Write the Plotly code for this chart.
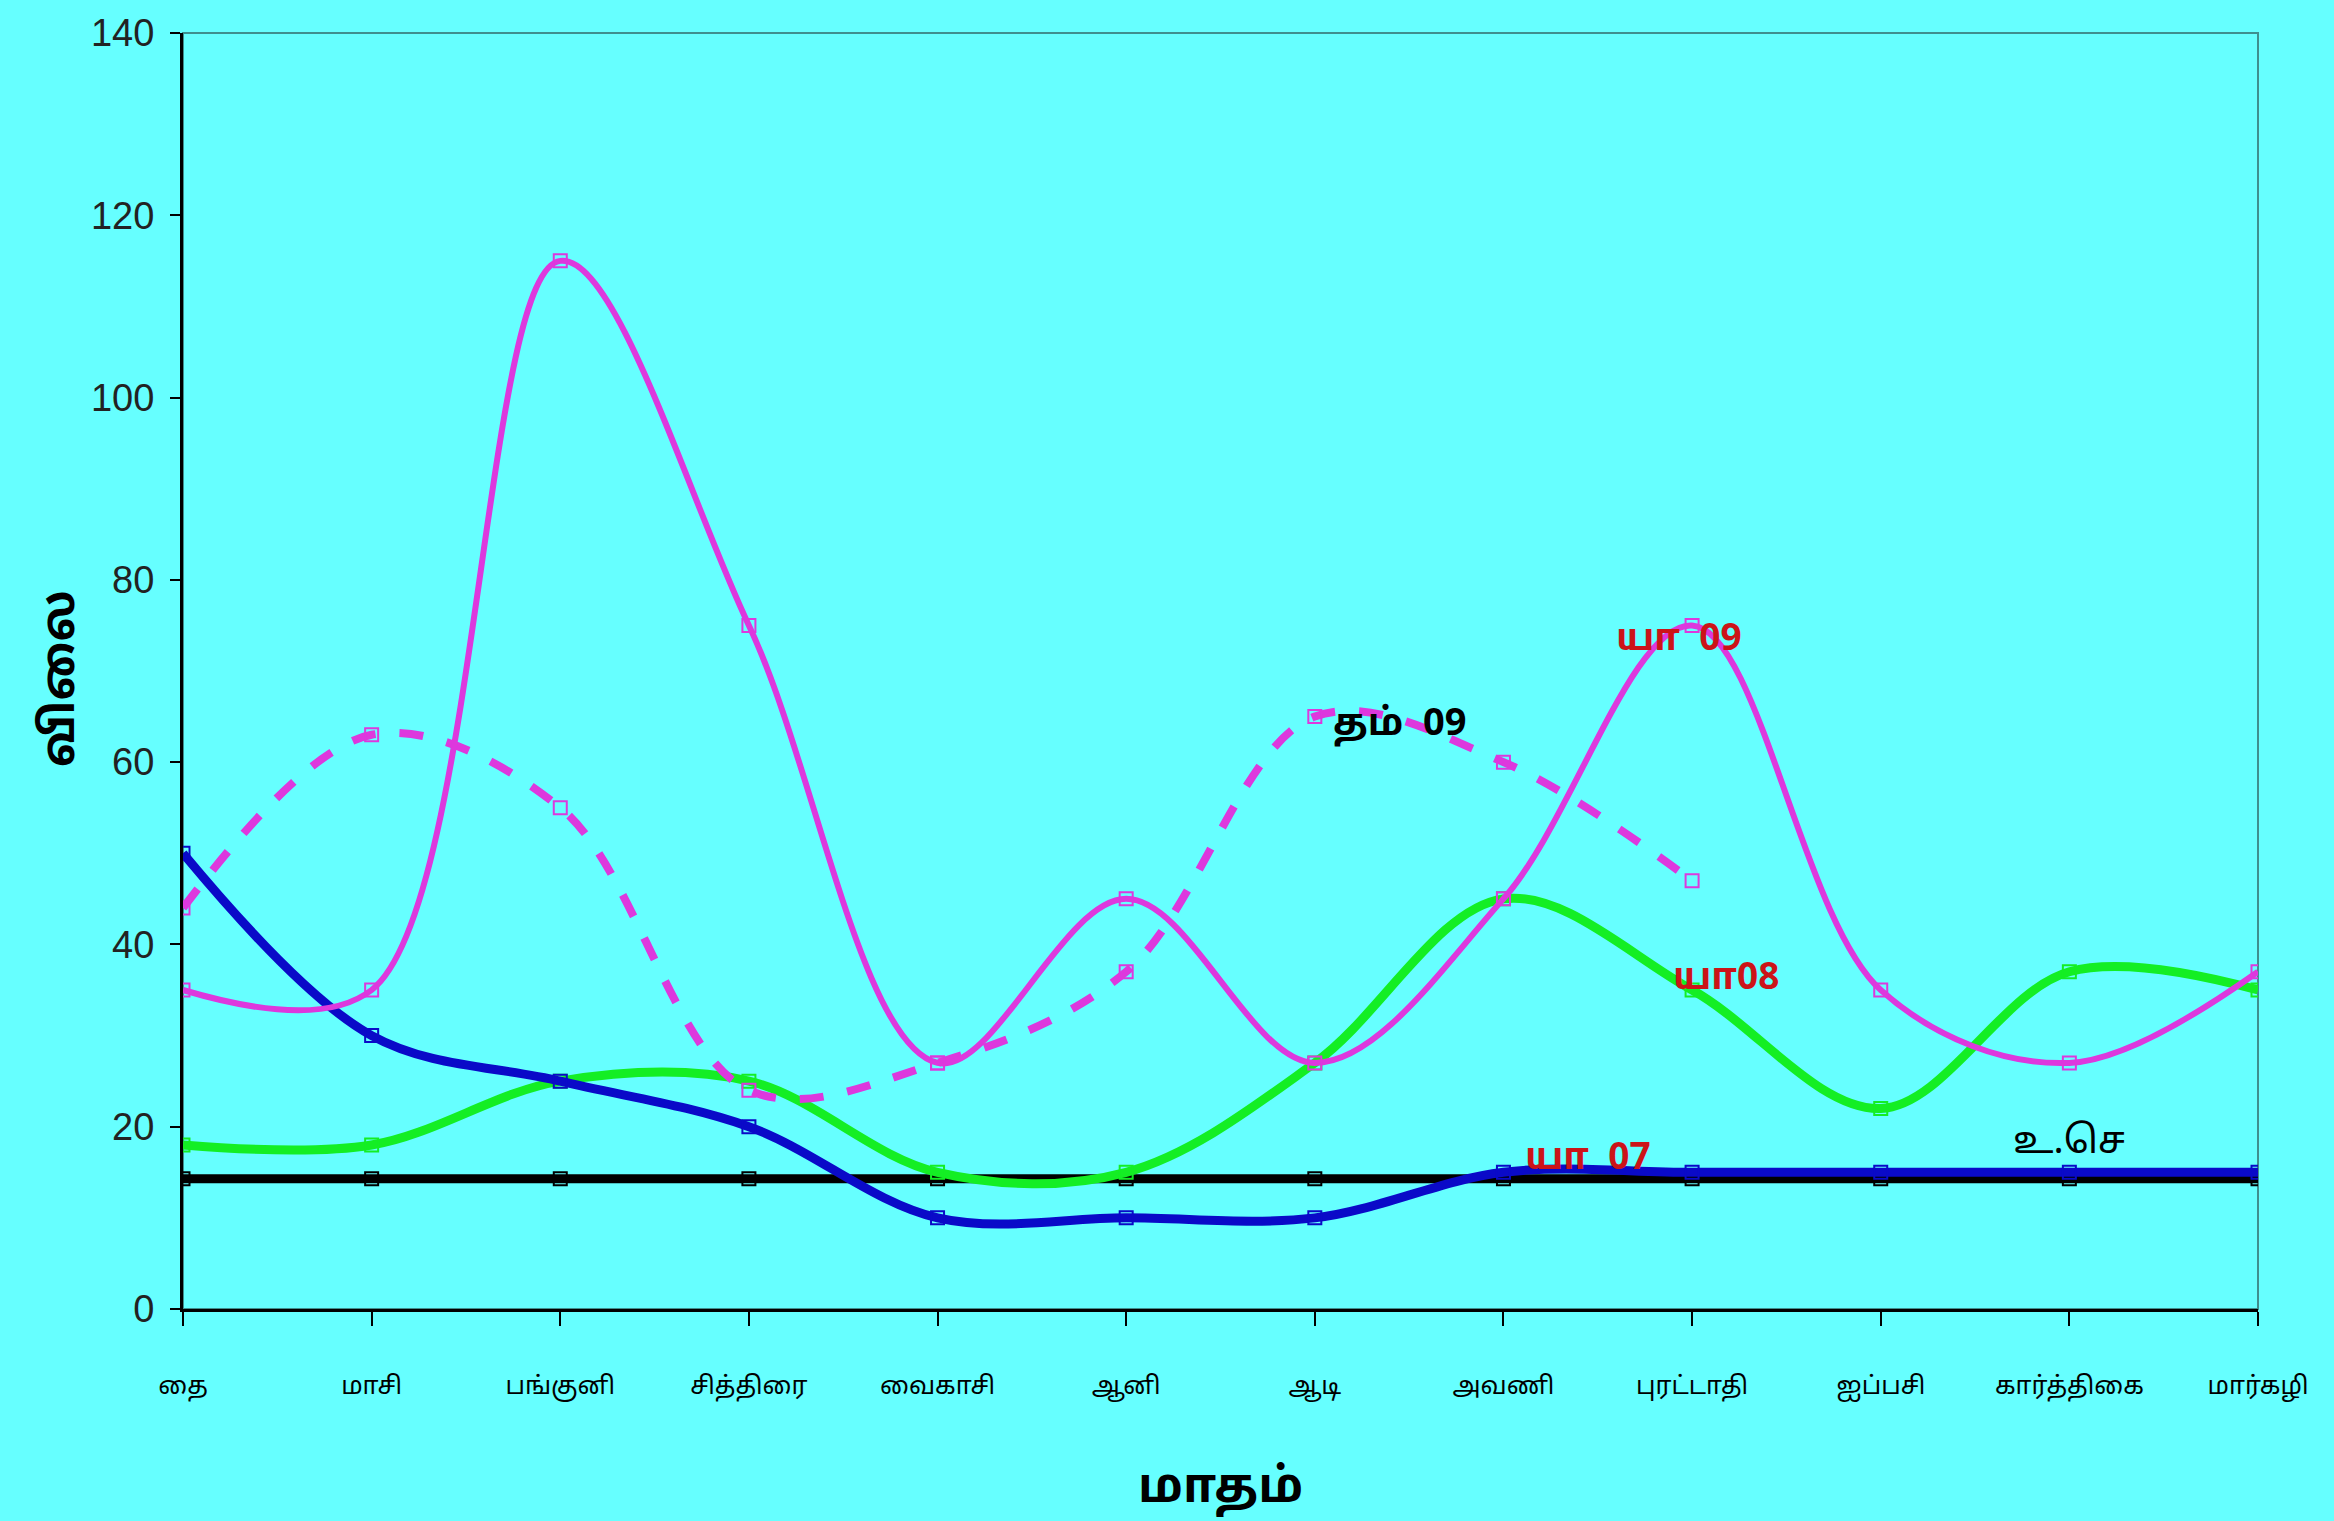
import plotly.graph_objects as go

months = ["தை", "மாசி", "பங்குனி", "சித்திரை", "வைகாசி", "ஆனி",
          "ஆடி", "அவணி", "புரட்டாதி", "ஐப்பசி", "கார்த்திகை", "மார்கழி"]

# yaa 09 (solid magenta)
yaa09 = [35, 35, 115, 75, 27, 45, 27, 45, 75, 35, 27, 37]
# tham 09 (dashed magenta, stops at purattathi)
tham09 = [44, 63, 55, 24, 27, 37, 65, 60, 47]
# yaa 08 (green)
yaa08 = [18, 18, 25, 25, 15, 15, 27, 45, 35, 22, 37, 35]
# yaa 07 (blue)
yaa07 = [50, 30, 25, 20, 10, 10, 10, 15, 15, 15, 15, 15]
# production cost (black)
cost = [14.3] * 12

y_ticks = [0, 20, 40, 60, 80, 100, 120, 140]

BG = "#66ffff"
TAMIL = "Noto Sans Tamil, Lohit Tamil, Latha, sans-serif"

fig = go.Figure()


def add_series(y, color, width, dash="solid"):
    fig.add_trace(go.Scatter(
        x=months[:len(y)], y=y, mode="lines+markers",
        line=dict(color=color, width=width, dash=dash, shape="spline", smoothing=1),
        marker=dict(symbol="square-open", size=13, color=color, line=dict(width=2, color=color)),
        showlegend=False,
    ))


add_series(cost, "#000000", 9)
add_series(yaa08, "#14ee24", 9)
add_series(yaa07, "#0a0ac8", 9)
add_series(tham09, "#dd38dd", 8, dash="dash")
add_series(yaa09, "#dd38dd", 6)

labels = [
    ("<b>யா  09</b>", 7.93, 73.3, "#cc1418", 37),
    ("<b>தம்  09</b>", 6.45, 64.0, "#000000", 38),
    ("<b>யா08</b>", 8.18, 36.1, "#cc1418", 37),
    ("<b>யா  07</b>", 7.45, 16.4, "#cc1418", 37),
    ("உ.செ", 10.0, 18.2, "#000000", 38),
]
for txt, lx, ly, col, sz in labels:
    fig.add_annotation(x=lx, y=ly, text=txt, showarrow=False,
                       font=dict(family=TAMIL, size=sz, color=col))

# axis titles
fig.add_annotation(x=0.5, y=-0.142, xref="paper", yref="paper", yanchor="middle",
                   text="<b>மாதம்</b>", showarrow=False,
                   font=dict(family=TAMIL, size=48, color="#000000"))
fig.add_annotation(x=-0.058, y=0.494, xref="paper", yref="paper", textangle=-90,
                   xanchor="center", yanchor="middle",
                   text="<b>விலை</b>", showarrow=False,
                   font=dict(family=TAMIL, size=46, color="#000000"))

# plot-area frame (top/right thin lines)
fig.add_shape(type="rect", xref="paper", yref="paper", x0=0, y0=0, x1=1, y1=1,
              line=dict(color="#3f8f8f", width=2), layer="below")

fig.update_layout(
    width=2334, height=1521,
    paper_bgcolor=BG, plot_bgcolor=BG,
    margin=dict(l=183, r=76, t=30, b=212),
    xaxis=dict(
        range=[0, 11], showgrid=False, zeroline=False,
        showline=True, linecolor="#000000", linewidth=3,
        ticks="outside", ticklen=14, tickwidth=2, tickcolor="#000000",
        ticklabelstandoff=38,
        tickfont=dict(family=TAMIL, size=25, color="#000000"),
    ),
    xaxis2=dict(
        range=[0, 11], overlaying="x", showgrid=False, zeroline=False,
        ticks="inside", ticklen=9, tickwidth=2, tickcolor="#000000",
        tickvals=list(range(12)), showticklabels=False,
    ),
    yaxis=dict(
        range=[0, 140], tickvals=y_ticks, showgrid=False, zeroline=False,
        showline=True, linecolor="#000000", linewidth=3,
        ticks="outside", ticklen=10, tickwidth=2, tickcolor="#000000",
        ticklabelstandoff=8,
        tickfont=dict(family="Liberation Sans Narrow, Liberation Sans, sans-serif", size=38, color="#222222"),
    ),
    yaxis2=dict(
        range=[0, 140], overlaying="y", showgrid=False, zeroline=False,
        ticks="inside", ticklen=10, tickwidth=2, tickcolor="#000000",
        tickvals=y_ticks, showticklabels=False,
    ),
)

fig.write_html("out.html", config={"displayModeBar": False},
               post_script="document.body.style.margin='0';")
